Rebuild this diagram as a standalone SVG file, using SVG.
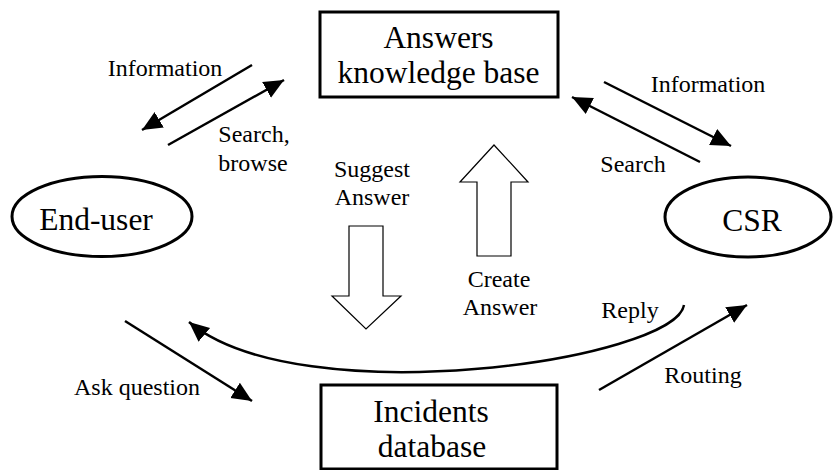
<svg xmlns="http://www.w3.org/2000/svg" width="834" height="470" viewBox="0 0 834 470">
<style>
.box{fill:#fff;stroke:#000;stroke-width:3}
.big{font-family:"Liberation Serif","Times New Roman",serif;font-size:31.5px;text-anchor:middle;fill:#000}
.lbl{font-family:"Liberation Serif","Times New Roman",serif;font-size:24px;text-anchor:middle;fill:#000}
.ln{fill:none;stroke:#000;stroke-width:2.5;marker-end:url(#ah)}
.hollow{fill:#fff;stroke:#000;stroke-width:1.2}
</style>
<defs>
<marker id="ah" markerUnits="userSpaceOnUse" markerWidth="22" markerHeight="22" viewBox="0 0 22 22" refX="20" refY="11" orient="auto">
<path d="M0,2 L20,11 L0,20 Z" fill="#000"/>
</marker>
</defs>
<rect width="834" height="470" fill="#fff"/>
<g id="kb">
<rect class="box" x="320" y="12" width="238" height="85"/>
<text class="big" x="438.5" y="48">Answers</text>
<text class="big" x="438.5" y="83">knowledge base</text>
</g>
<g id="incidents">
<rect class="box" x="321" y="385" width="236" height="84"/>
<text class="big" x="431" y="422">Incidents</text>
<text class="big" x="432" y="457">database</text>
</g>
<g id="enduser">
<ellipse class="box" cx="102" cy="216.5" rx="90" ry="40"/>
<text class="big" x="96" y="230">End-user</text>
</g>
<g id="csr">
<ellipse class="box" cx="748" cy="217" rx="83" ry="40"/>
<text class="big" x="752" y="231">CSR</text>
</g>
<g id="connectors">
<line class="ln" x1="252" y1="65" x2="142" y2="130"/>
<line class="ln" x1="168" y1="145" x2="284" y2="80"/>
<line class="ln" x1="604" y1="82" x2="731" y2="146"/>
<line class="ln" x1="700" y1="162" x2="572" y2="97"/>
<line class="ln" x1="125" y1="321" x2="252" y2="401"/>
<line class="ln" x1="599" y1="390" x2="747" y2="305"/>
<path class="ln" d="M684,305 C675,360 300,415 189,322"/>
<path class="hollow" d="M494,145 L528,182 L511,182 L511,256 L477,256 L477,182 L460,182 Z"/>
<path class="hollow" d="M349,226 L383,226 L383,296 L401,296 L366,329 L332,296 L349,296 Z"/>
</g>
<g id="labels">
<text class="lbl" x="165" y="76">Information</text>
<text class="lbl" x="254" y="142">Search,</text>
<text class="lbl" x="253" y="171">browse</text>
<text class="lbl" x="372" y="177">Suggest</text>
<text class="lbl" x="372" y="205">Answer</text>
<text class="lbl" x="708" y="92">Information</text>
<text class="lbl" x="633" y="172">Search</text>
<text class="lbl" x="499" y="287">Create</text>
<text class="lbl" x="500" y="315">Answer</text>
<text class="lbl" x="630" y="318">Reply</text>
<text class="lbl" x="703" y="383">Routing</text>
<text class="lbl" x="137" y="395">Ask question</text>
</g>
</svg>
